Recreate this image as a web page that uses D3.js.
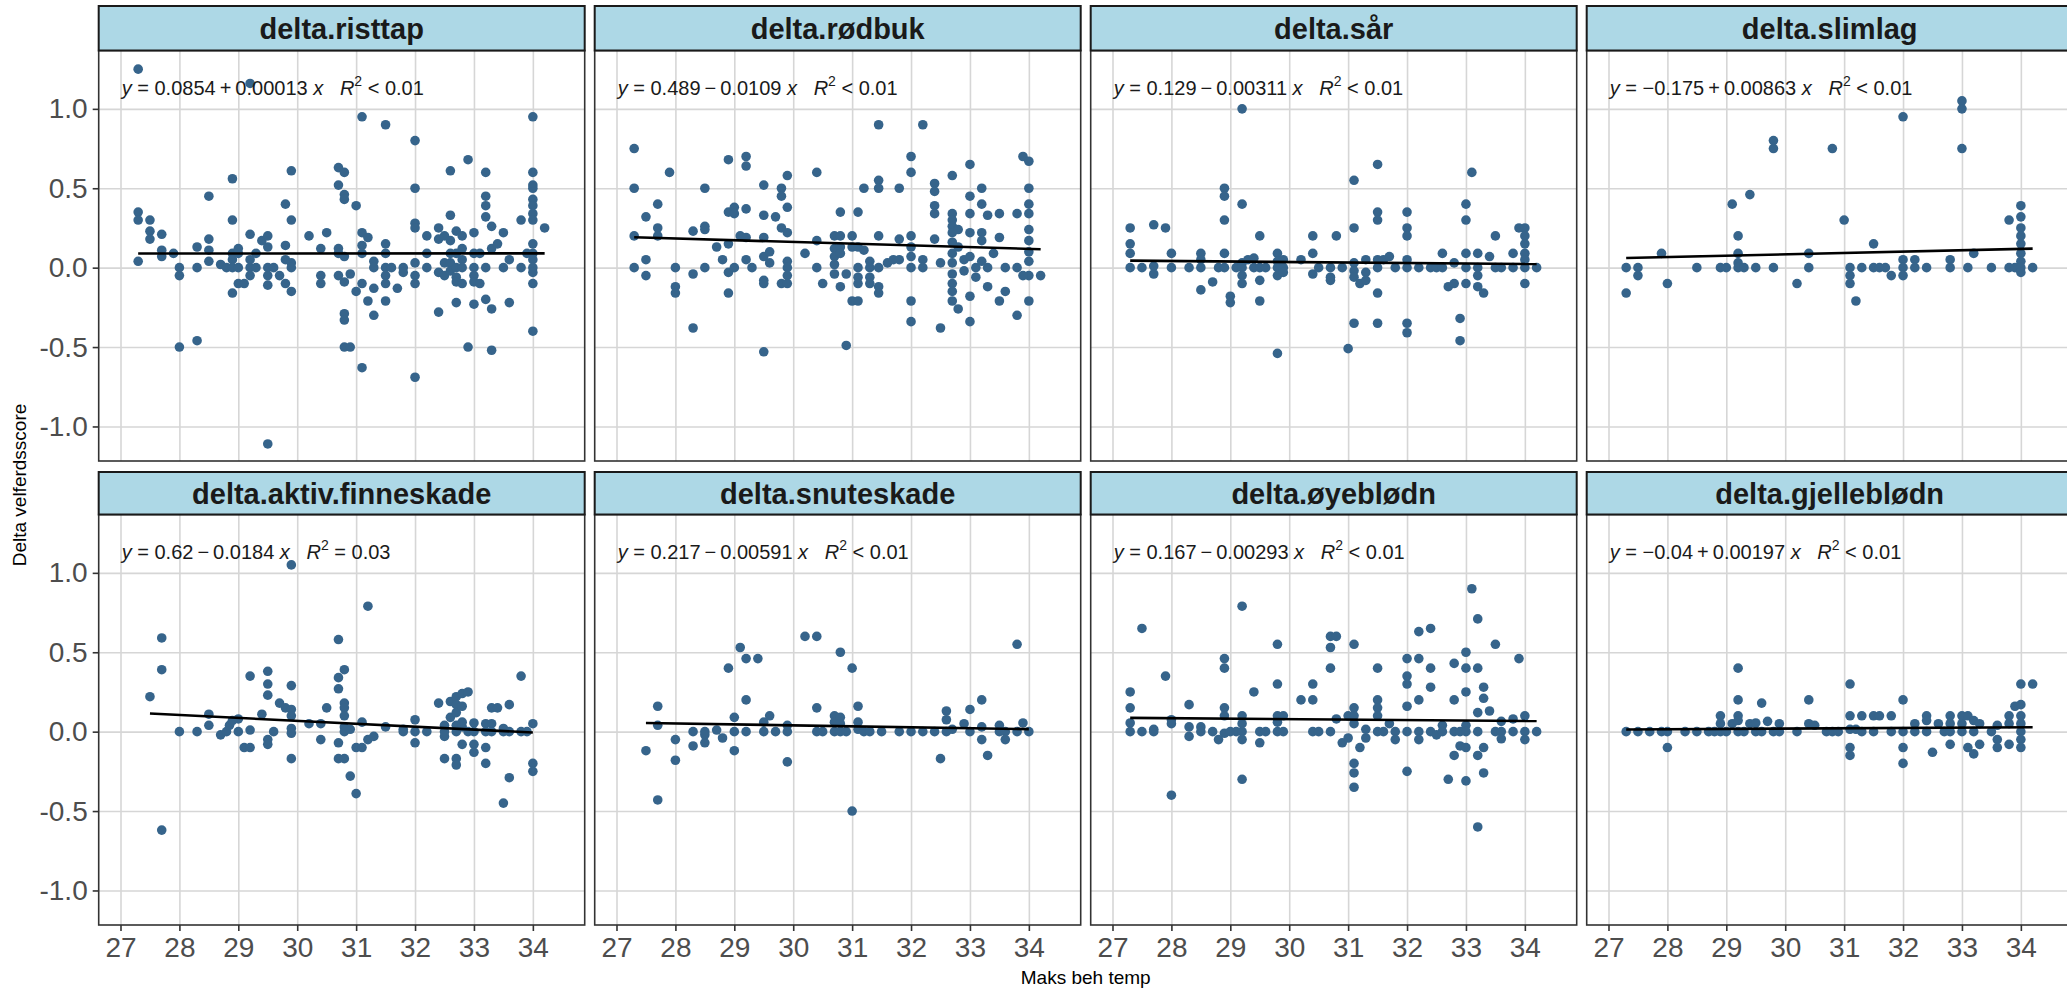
<!DOCTYPE html>
<html>
<head>
<meta charset="utf-8">
<script src="https://cdn.jsdelivr.net/npm/d3@7"></script>
<style>
  body { margin: 0; background: #fff; }
  svg { display: block; font-family: "Liberation Sans", Arial, sans-serif; }
</style>
</head>
<body>
<div id="chart"></div>
<script>
// Facet names and fit results (stat_poly_eq labels)
const facetNames = ["delta.risttap", "delta.rødbuk", "delta.sår", "delta.slimlag",
    "delta.aktiv.finneskade", "delta.snuteskade", "delta.øyeblødn", "delta.gjelleblødn"];
const intercepts = [0.0854, 0.489, 0.129, -0.175, 0.62, 0.217, 0.167, -0.04];
const slopes = [0.00013, -0.0109, -0.00311, 0.00863, -0.0184, -0.00591, -0.00293, 0.00197];
const r2Labels = ["< 0.01", "< 0.01", "< 0.01", "< 0.01", "= 0.03", "< 0.01", "< 0.01", "< 0.01"];

const xTicks = [27, 28, 29, 30, 31, 32, 33, 34];
const yTicks = [-1, -0.5, 0, 0.5, 1];

// [Maks beh temp, delta score] per facet
const risttap = [
  [27.3,1.25],[27.3,0.35],[27.3,0.30],[27.3,0.04],[27.5,0.30],[27.5,0.23],[27.5,0.18],
  [27.7,0.21],[27.7,0.11],[27.7,0.07],[27.9,0.09],[28.0,0],[28.0,-0.05],[28.0,-0.5],
  [28.3,0.13],[28.3,0],[28.3,-0.46],[28.5,0.45],[28.5,0.18],[28.5,0.11],[28.5,0.04],
  [28.7,0.02],[28.8,0],[28.9,0.56],[28.9,0.30],[28.9,0.09],[28.9,0.05],[28.9,0],[28.9,-0.16],
  [29.0,0.12],[29.0,0.09],[29.0,0],[29.0,-0.1],[29.1,-0.1],[29.2,0.21],[29.2,0.05],[29.2,0],
  [29.2,-0.05],[29.2,1.16],[29.3,0.09],[29.3,0],[29.4,0.17],[29.5,0.2],[29.5,0.13],[29.5,0],
  [29.5,-0.05],[29.5,-0.11],[29.5,-1.11],[29.6,0],[29.7,-0.05],[29.8,0.4],[29.8,0.14],
  [29.8,0.05],[29.8,-0.1],[29.9,0.61],[29.9,0.3],[29.9,0.03],[29.9,0],[29.9,-0.15],[30.2,0.2],
  [30.4,0.12],[30.4,-0.05],[30.4,-0.1],[30.5,0.22],[30.7,0.63],[30.7,0.52],[30.7,0.12],
  [30.7,0.09],[30.7,-0.05],[30.8,0.6],[30.8,0.46],[30.8,0.43],[30.8,0.07],[30.8,-0.09],
  [30.8,-0.29],[30.8,-0.33],[30.8,-0.5],[30.9,-0.5],[30.9,-0.04],[31.0,0.39],[31.0,-0.15],
  [31.1,0.95],[31.1,0.22],[31.1,0.14],[31.1,0.09],[31.1,-0.1],[31.1,-0.63],[31.2,0.19],
  [31.2,-0.21],[31.3,0.04],[31.3,0],[31.3,-0.13],[31.3,-0.3],[31.5,0.9],[31.5,0.15],
  [31.5,0.09],[31.5,0],[31.5,-0.05],[31.5,-0.1],[31.5,-0.21],[31.6,0],[31.7,-0.13],[31.8,0],
  [31.8,-0.03],[32.0,0.8],[32.0,0.5],[32.0,0.28],[32.0,0.25],[32.0,0.03],[32.0,-0.05],
  [32.0,-0.1],[32.0,-0.69],[32.2,0.2],[32.2,0.09],[32.2,0],[32.4,0.25],[32.4,0.18],
  [32.4,-0.03],[32.4,-0.28],[32.5,0.2],[32.5,0.03],[32.5,-0.05],[32.6,0.61],[32.6,0.33],
  [32.6,0.17],[32.6,0.09],[32.6,0.03],[32.6,-0.02],[32.7,0.23],[32.7,0.09],[32.7,0],
  [32.7,-0.06],[32.7,-0.09],[32.7,-0.22],[32.8,0.2],[32.8,0.12],[32.8,0.05],[32.8,0],
  [32.8,-0.1],[32.9,0.68],[32.9,-0.5],[33.0,0.22],[33.0,0.09],[33.0,0],[33.0,-0.05],
  [33.0,-0.09],[33.0,-0.23],[33.1,0.09],[33.1,-0.1],[33.2,0.6],[33.2,0.45],[33.2,0.39],
  [33.2,0.32],[33.2,0],[33.2,-0.2],[33.3,0.26],[33.3,0.12],[33.3,-0.26],[33.3,-0.52],
  [33.4,0.15],[33.5,0.22],[33.5,0],[33.6,0.05],[33.6,-0.22],[33.8,0.3],[33.8,0],[33.9,0.09],
  [34.0,0.95],[34.0,0.6],[34.0,0.52],[34.0,0.5],[34.0,0.43],[34.0,0.39],[34.0,0.34],
  [34.0,0.3],[34.0,0.15],[34.0,0.09],[34.0,0.05],[34.0,0],[34.0,-0.03],[34.0,-0.1],
  [34.0,-0.4],[34.2,0.25]
];

const rodbuk = [
  [27.3,0.75],[27.3,0.5],[27.3,0.2],[27.3,0],[27.5,0.32],[27.5,0.05],[27.5,-0.05],
  [27.7,0.4],[27.7,0.25],[27.7,0.2],[27.9,0.6],[28.0,0],[28.0,-0.12],[28.0,-0.16],
  [28.3,0.23],[28.3,-0.04],[28.3,-0.38],[28.5,0.5],[28.5,0.26],[28.5,0.24],[28.5,0],
  [28.7,0.13],[28.8,0.05],[28.9,0.68],[28.9,0.35],[28.9,0.15],[28.9,-0.03],[28.9,-0.16],
  [29.0,0.38],[29.0,0.34],[29.0,0],[29.1,0.2],[29.2,0.7],[29.2,0.64],[29.2,0.37],[29.2,0.19],
  [29.2,0.05],[29.3,0],[29.5,0.52],[29.5,0.33],[29.5,0.19],[29.5,0.07],[29.5,-0.08],
  [29.5,-0.1],[29.5,-0.53],[29.6,0.1],[29.6,0.03],[29.7,0.32],[29.8,0.5],[29.8,0.45],
  [29.8,0.25],[29.8,-0.1],[29.9,0.58],[29.9,0.38],[29.9,0.22],[29.9,0.04],[29.9,0],
  [29.9,-0.05],[29.9,-0.1],[30.2,0.09],[30.4,0.6],[30.4,0.17],[30.4,0],[30.5,-0.1],
  [30.7,0.2],[30.7,0.12],[30.7,0.07],[30.7,0.02],[30.7,-0.04],[30.8,0.35],[30.8,0.2],
  [30.8,0.13],[30.8,0.09],[30.8,-0.12],[30.9,-0.04],[30.9,-0.49],[31.0,0.2],[31.0,0.13],
  [31.0,-0.21],[31.1,0.35],[31.1,0.13],[31.1,0],[31.1,-0.06],[31.1,-0.1],[31.1,-0.21],
  [31.2,0.5],[31.2,0.11],[31.3,0.04],[31.3,0],[31.3,-0.06],[31.3,-0.1],[31.45,0.9],
  [31.45,0.55],[31.45,0.5],[31.45,0.2],[31.45,0],[31.45,-0.12],[31.45,-0.16],[31.6,0.03],
  [31.7,0.05],[31.8,0.5],[31.8,0.18],[31.8,0.05],[32.0,0.7],[32.0,0.6],[32.0,0.2],
  [32.0,0.13],[32.0,0.07],[32.0,0],[32.0,-0.21],[32.0,-0.34],[32.2,0.9],[32.2,0.05],
  [32.2,0],[32.4,0.53],[32.4,0.48],[32.4,0.39],[32.4,0.34],[32.4,0.18],[32.5,0.03],
  [32.5,-0.38],[32.7,0.58],[32.7,0.34],[32.7,0.3],[32.7,0.26],[32.7,0.22],[32.7,0.16],
  [32.7,0.09],[32.7,0.03],[32.7,-0.04],[32.7,-0.1],[32.7,-0.15],[32.7,-0.21],[32.8,-0.26],
  [32.8,0.24],[32.8,0.13],[32.9,0.05],[32.9,-0.02],[33.0,0.65],[33.0,0.45],[33.0,0.34],
  [33.0,0.22],[33.0,0.07],[33.0,-0.18],[33.0,-0.34],[33.1,0],[33.1,-0.06],[33.2,0.5],
  [33.2,0.4],[33.2,0.22],[33.2,0.17],[33.2,0.04],[33.3,0.33],[33.3,0],[33.3,-0.12],
  [33.4,0.09],[33.5,0.34],[33.5,0.19],[33.5,-0.21],[33.6,0],[33.6,-0.15],[33.8,0.34],
  [33.8,0],[33.8,-0.3],[33.9,0.7],[34.0,0.67],[34.0,0.5],[34.0,0.4],[34.0,0.34],[34.0,0.24],
  [34.0,0.17],[34.0,0.1],[34.0,0.04],[34.0,-0.05],[34.0,-0.21],[33.9,-0.05],[34.2,-0.05]
];

const sar = [
  [27.3,0.25],[27.3,0.15],[27.3,0.09],[27.3,0],[27.5,0],[27.7,0.27],[27.7,0.01],[27.7,-0.04],
  [27.9,0.25],[28.0,0.09],[28.0,0],[28.3,0],[28.5,0.09],[28.5,0.05],[28.5,0],[28.5,-0.14],
  [28.7,-0.09],[28.8,0],[28.9,0.5],[28.9,0.45],[28.9,0.3],[28.9,0.09],[28.9,0],[29.0,-0.18],
  [29.0,-0.22],[29.1,0],[29.2,1.0],[29.2,0.4],[29.2,0.03],[29.2,0],[29.2,-0.05],[29.2,-0.1],
  [29.3,0.05],[29.4,0.06],[29.4,0],[29.5,0.2],[29.5,0],[29.5,-0.08],[29.5,-0.21],[29.6,0],
  [29.8,0.09],[29.8,0.04],[29.8,0],[29.8,-0.05],[29.8,-0.54],[29.9,0.05],[29.9,0],
  [29.9,-0.03],[30.2,0.05],[30.4,0.2],[30.4,0.09],[30.4,-0.04],[30.5,0],[30.7,0],
  [30.7,-0.06],[30.7,-0.08],[30.8,0.2],[30.9,0],[31.0,-0.51],[31.1,0.55],[31.1,0.25],
  [31.1,0.03],[31.1,-0.02],[31.1,-0.06],[31.1,-0.35],[31.2,-0.1],[31.3,0.05],[31.3,-0.03],
  [31.3,-0.08],[31.5,0.65],[31.5,0.35],[31.5,0.3],[31.5,0.05],[31.5,0],[31.5,-0.16],
  [31.5,-0.35],[31.6,0.05],[31.7,0.07],[31.8,0],[32.0,0.35],[32.0,0.25],[32.0,0.2],
  [32.0,0.05],[32.0,0],[32.0,-0.35],[32.0,-0.41],[32.2,0],[32.4,0],[32.5,0],[32.6,0.09],
  [32.6,0],[32.7,-0.12],[32.8,-0.1],[32.8,0.03],[32.9,-0.32],[32.9,-0.46],[33.0,0.4],
  [33.0,0.3],[33.0,0.09],[33.0,0],[33.0,-0.1],[33.1,0.6],[33.2,0.09],[33.2,0],[33.2,-0.05],
  [33.2,-0.12],[33.3,-0.16],[33.4,0.07],[33.5,0.2],[33.5,0],[33.6,0],[33.8,0.09],[33.8,0],
  [33.9,0.25],[34.0,0.25],[34.0,0.2],[34.0,0.15],[34.0,0.09],[34.0,0.05],[34.0,0],
  [34.0,-0.1],[34.2,0]
];

const slimlag = [
  [27.3,0],[27.3,-0.16],[27.5,0],[27.5,-0.05],[27.9,0.09],[28.0,-0.1],[28.5,0],[28.9,0],
  [29.0,0],[29.1,0.4],[29.2,0.2],[29.2,0.09],[29.2,0.03],[29.2,0],[29.3,0],[29.4,0.46],
  [29.5,0],[29.8,0.8],[29.8,0.75],[29.8,0],[30.2,-0.1],[30.4,0.09],[30.4,0],[30.8,0.75],
  [31.0,0.3],[31.1,0],[31.1,-0.05],[31.1,-0.1],[31.2,-0.21],[31.3,0],[31.5,0.15],[31.5,0],
  [31.6,0],[31.7,0],[31.8,-0.05],[32.0,0.95],[32.0,0.05],[32.0,0],[32.0,-0.05],[32.2,0.05],
  [32.2,0],[32.4,0],[32.8,0.05],[32.8,0],[33.0,1.05],[33.0,1.0],[33.0,0.75],[33.1,0],
  [33.2,0.09],[33.5,0],[33.8,0.3],[33.8,0],[33.9,0],[34.0,0.39],[34.0,0.32],[34.0,0.25],
  [34.0,0.2],[34.0,0.15],[34.0,0.09],[34.0,0.04],[34.0,0],[34.0,-0.03],[34.2,0]
];

const finneskade = [
  [27.5,0.22],[27.7,0.59],[27.7,0.39],[27.7,-0.62],[28.0,0],[28.3,0],[28.5,0.11],[28.5,0.04],
  [28.7,-0.02],[28.8,0],[28.85,0.04],[28.9,0.07],[29.0,0.08],[29.0,0],[29.1,-0.1],[29.2,0.35],
  [29.2,0.01],[29.2,-0.1],[29.4,0.11],[29.5,0.38],[29.5,0.3],[29.5,0.23],[29.5,-0.05],
  [29.5,-0.08],[29.6,0],[29.7,0.18],[29.8,0.15],[29.9,0.29],[29.9,0.14],[29.9,0.1],
  [29.9,0.02],[29.9,-0.01],[29.9,-0.17],[29.9,1.05],[30.2,0.05],[30.4,0.05],[30.4,-0.05],
  [30.5,0.15],[30.7,0.58],[30.7,0.34],[30.7,0.27],[30.7,-0.07],[30.7,-0.17],[30.8,0.39],
  [30.8,0.18],[30.8,0.15],[30.8,0.1],[30.8,0.03],[30.8,0],[30.8,-0.17],[30.9,0.015],
  [30.9,-0.28],[31.0,-0.1],[31.0,-0.39],[31.1,0.06],[31.1,-0.1],[31.2,0.79],[31.2,-0.05],
  [31.3,-0.03],[31.5,0.03],[31.8,0.015],[31.8,0],[32.0,0.075],[32.0,0],[32.0,-0.07],
  [32.2,0],[32.4,0.18],[32.5,0.04],[32.5,0],[32.5,-0.03],[32.5,-0.17],[32.6,0.19],
  [32.6,0.09],[32.7,0.22],[32.7,0.17],[32.7,0.12],[32.7,0.04],[32.7,0],[32.7,-0.17],
  [32.7,-0.21],[32.8,0.24],[32.8,0.16],[32.8,0.06],[32.8,0.03],[32.8,-0.08],[32.9,0.25],
  [32.9,0],[33.0,0.055],[33.0,0],[33.0,-0.08],[33.0,-0.13],[33.2,0.05],[33.2,0],[33.2,-0.1],
  [33.2,-0.2],[33.3,0.15],[33.3,0.05],[33.3,0],[33.4,0.15],[33.5,0.02],[33.5,0],[33.5,-0.45],
  [33.6,0.17],[33.6,0],[33.6,-0.29],[33.8,0.35],[33.8,0],[33.9,0],[34.0,0.05],[34.0,-0.2],
  [34.0,-0.25]
];

const snuteskade = [
  [27.5,-0.12],[27.7,0.16],[27.7,0.04],[27.7,-0.43],[28.0,-0.05],[28.0,-0.18],[28.3,0],
  [28.3,-0.09],[28.5,0],[28.5,-0.02],[28.5,-0.07],[28.7,0.01],[28.8,-0.04],[28.9,0.4],
  [29.0,0.09],[29.0,0],[29.0,-0.12],[29.1,0.53],[29.2,0.46],[29.2,0.2],[29.2,0],[29.4,0.46],
  [29.5,0.06],[29.5,0],[29.6,0.1],[29.7,0],[29.9,0.04],[29.9,0],[29.9,-0.19],[30.2,0.6],
  [30.4,0.6],[30.4,0.15],[30.4,0],[30.5,0],[30.7,0.1],[30.7,0.06],[30.7,0],[30.8,0.5],
  [30.8,0.09],[30.8,0.05],[30.8,0],[30.9,0],[31.0,0.4],[31.0,-0.5],[31.1,0.16],[31.1,0.06],
  [31.1,0.015],[31.2,0],[31.3,0],[31.5,0],[31.8,0],[32.0,0],[32.2,0],[32.4,0],[32.5,-0.17],
  [32.6,0.13],[32.6,0.075],[32.6,0],[32.7,0.015],[32.9,0.05],[33.0,0.14],[33.0,0],
  [33.2,0.2],[33.2,0.03],[33.2,-0.05],[33.3,-0.15],[33.5,0.04],[33.5,0],[33.6,0],
  [33.6,-0.05],[33.8,0.55],[33.8,0],[33.9,0.055],[34.0,0]
];

const oyeblodn = [
  [27.3,0.25],[27.3,0.15],[27.3,0.055],[27.3,0],[27.5,0.65],[27.5,0],[27.7,0.015],[27.7,0],
  [27.9,0.35],[28.0,0.075],[28.0,0.05],[28.0,-0.4],[28.3,0.17],[28.3,0.03],[28.3,-0.03],
  [28.5,0.03],[28.5,0],[28.7,0],[28.8,-0.05],[28.9,0.46],[28.9,0.4],[28.9,0.15],[28.9,0.1],
  [28.9,-0.01],[29.0,0],[29.1,0],[29.2,0.79],[29.2,0.1],[29.2,0.05],[29.2,0],[29.2,-0.05],
  [29.2,-0.3],[29.4,0.25],[29.5,0],[29.5,-0.07],[29.6,0],[29.8,0.55],[29.8,0.3],[29.8,0.1],
  [29.8,0.06],[29.8,0],[29.9,0.1],[29.9,0],[30.2,0.2],[30.4,0.3],[30.4,0.2],[30.4,0],
  [30.5,0],[30.7,0.6],[30.7,0.53],[30.7,0.4],[30.7,0],[30.8,0.6],[30.8,0.08],[30.9,-0.07],
  [31.0,0.1],[31.0,-0.04],[31.1,0.55],[31.1,0.15],[31.1,0.1],[31.1,0.05],[31.1,-0.2],
  [31.1,-0.26],[31.1,-0.35],[31.2,-0.1],[31.3,0.015],[31.3,-0.04],[31.5,0.4],[31.5,0.2],
  [31.5,0.15],[31.5,0.1],[31.5,0],[31.6,0],[31.7,0.05],[31.8,0],[31.8,-0.05],[32.0,0.46],
  [32.0,0.35],[32.0,0.3],[32.0,0.16],[32.0,0],[32.0,-0.25],[32.2,0.63],[32.2,0.46],
  [32.2,0.2],[32.2,0],[32.2,-0.05],[32.4,0.65],[32.4,0.4],[32.4,0.28],[32.4,0],[32.5,-0.02],
  [32.6,0.04],[32.6,0],[32.7,-0.3],[32.8,0.43],[32.8,0.2],[32.8,0],[32.8,-0.15],[32.9,0],
  [32.9,-0.09],[33.0,0.5],[33.0,0.4],[33.0,0.25],[33.0,0.04],[33.0,0],[33.0,-0.1],
  [33.0,-0.31],[33.1,0.9],[33.2,0.71],[33.2,0.4],[33.2,0.12],[33.2,0],[33.2,-0.15],
  [33.2,-0.6],[33.3,0.28],[33.3,0.21],[33.3,-0.1],[33.3,-0.26],[33.4,0.13],[33.5,0.55],
  [33.5,0],[33.6,0.065],[33.6,0],[33.6,-0.045],[33.8,0.08],[33.8,0],[33.9,0.46],[34.0,0.1],
  [34.0,0],[34.0,-0.05],[34.2,0]
];

const gjelleblodn = [
  [27.3,0],[27.5,0],[27.7,0],[27.9,0],[28.0,0],[28.0,-0.1],[28.3,0],[28.5,0],[28.7,0],
  [28.8,0],[28.9,0.1],[28.9,0.05],[28.9,0],[29.0,0],[29.1,0.05],[29.2,0.4],[29.2,0.2],
  [29.2,0.1],[29.2,0.07],[29.2,0],[29.3,0],[29.4,0.05],[29.5,0.055],[29.5,0],[29.6,0.18],
  [29.6,0],[29.7,0.065],[29.8,0],[29.9,0.05],[29.9,0],[30.2,0],[30.4,0.2],[30.4,0.05],
  [30.5,0.04],[30.7,0],[30.8,0],[30.9,0],[31.1,0.3],[31.1,0.1],[31.1,0.015],[31.1,-0.1],
  [31.1,-0.15],[31.2,0.015],[31.3,0.1],[31.3,0],[31.5,0.1],[31.5,0],[31.6,0.1],[31.8,0.1],
  [31.8,0],[32.0,0.2],[32.0,0],[32.0,-0.1],[32.0,-0.2],[32.2,0.05],[32.2,0],[32.4,0.1],
  [32.4,0.07],[32.4,0],[32.5,-0.13],[32.6,0.05],[32.7,0],[32.8,0.1],[32.8,0.05],[32.8,0],
  [32.8,-0.08],[33.0,0.1],[33.0,0.05],[33.0,0],[33.1,0.1],[33.1,-0.1],[33.2,0.07],[33.2,0],
  [33.2,-0.14],[33.3,0.05],[33.3,-0.08],[33.5,0],[33.6,0.04],[33.6,-0.05],[33.6,-0.1],
  [33.8,0.1],[33.8,0.05],[33.8,-0.08],[33.9,0.16],[34.0,0.3],[34.0,0.17],[34.0,0.1],
  [34.0,0.05],[34.0,0],[34.0,-0.05],[34.0,-0.1],[34.2,0.3]
];

const panelData = [risttap, rodbuk, sar, slimlag, finneskade, snuteskade, oyeblodn, gjelleblodn];

// Layout
const width = 2067, height = 990;
const colLeft = [98.7, 594.7, 1090.7, 1586.7];
const panelW = 486;
const rowBox = [
  { stripTop: 6, panelTop: 50.5, bottom: 461 },
  { stripTop: 472, panelTop: 514.5, bottom: 925 }
];
const xDomain = [26.63, 34.88];
const yDomain = [-1.2175, 1.3675];
const pointColor = "#36648B";

const fmtCoef = d3.format(".3~g");
const fmtTick = d3.formatLocale({ decimal: ".", thousands: ",", grouping: [3], currency: ["", ""], minus: "-" }).format(".1f");

const svg = d3.select("#chart").append("svg")
  .attr("width", width)
  .attr("height", height);

const defs = svg.append("defs");

panelData.forEach((data, i) => {
  const col = i % 4, row = Math.floor(i / 4);
  const box = rowBox[row];
  const left = colLeft[col];
  const x = d3.scaleLinear().domain(xDomain).range([left, left + panelW]);
  const y = d3.scaleLinear().domain(yDomain).range([box.bottom, box.panelTop]);
  const panelH = box.bottom - box.panelTop;

  defs.append("clipPath").attr("id", "clip" + i)
    .append("rect")
    .attr("x", left).attr("y", box.panelTop)
    .attr("width", panelW).attr("height", panelH);

  const g = svg.append("g");

  g.append("rect")
    .attr("x", left).attr("y", box.panelTop)
    .attr("width", panelW).attr("height", panelH)
    .attr("fill", "#fff");

  // grid lines through the axes
  const gridX = g.append("g")
    .attr("transform", `translate(0,${box.bottom})`)
    .call(d3.axisBottom(x).tickValues(xTicks).tickSize(-panelH).tickFormat(""));
  const gridY = g.append("g")
    .attr("transform", `translate(${left},0)`)
    .call(d3.axisLeft(y).tickValues(yTicks).tickSize(-panelW).tickFormat(""));
  [gridX, gridY].forEach(gr => {
    gr.select(".domain").remove();
    gr.selectAll("line").attr("stroke", "#d6d6d6").attr("stroke-width", 1.6);
  });

  const inner = g.append("g").attr("clip-path", `url(#clip${i})`);

  inner.selectAll("circle")
    .data(data)
    .join("circle")
    .attr("cx", d => x(d[0]))
    .attr("cy", d => y(d[1]))
    .attr("r", 4.8)
    .attr("fill", pointColor);

  // fitted line
  const ext = d3.extent(data, d => d[0]);
  const a = intercepts[i], b = slopes[i];
  const line = d3.line().x(d => x(d)).y(d => y(a + b * d));
  inner.append("path")
    .datum(ext)
    .attr("d", line)
    .attr("fill", "none")
    .attr("stroke", "#000")
    .attr("stroke-width", 2.6);

  // equation label
  const eq = g.append("text")
    .attr("x", left + 23)
    .attr("y", box.panelTop + 44)
    .attr("font-size", 20)
    .attr("fill", "#1a1a1a")
    .style("white-space", "pre");
  eq.append("tspan").attr("font-style", "italic").text("y");
  eq.append("tspan").text(" = " + (a < 0 ? "\u2212" : "") + fmtCoef(Math.abs(a)) +
    (b < 0 ? "\u2009\u2212\u2009" : "\u2009+\u2009") + fmtCoef(Math.abs(b)) + " ");
  eq.append("tspan").attr("font-style", "italic").text("x");
  eq.append("tspan").text("   ");
  eq.append("tspan").attr("font-style", "italic").text("R");
  eq.append("tspan").attr("font-size", 14).attr("dy", -9).text("2");
  eq.append("tspan").attr("dy", 9).text(" " + r2Labels[i]);

  // panel border
  g.append("rect")
    .attr("x", left).attr("y", box.panelTop)
    .attr("width", panelW).attr("height", panelH)
    .attr("fill", "none")
    .attr("stroke", "#333")
    .attr("stroke-width", 1.6);

  // strip
  g.append("rect")
    .attr("x", left).attr("y", box.stripTop)
    .attr("width", panelW).attr("height", box.panelTop - box.stripTop)
    .attr("fill", "#ADD8E6")
    .attr("stroke", "#1a1a1a")
    .attr("stroke-width", 2);
  g.append("text")
    .attr("x", left + panelW / 2)
    .attr("y", (box.stripTop + box.panelTop) / 2)
    .attr("dy", "0.36em")
    .attr("text-anchor", "middle")
    .attr("font-size", 29)
    .attr("font-weight", "bold")
    .attr("fill", "#1a1a1a")
    .text(facetNames[i]);

  // axes on the outer panels
  if (col === 0) {
    const ax = g.append("g")
      .attr("transform", `translate(${left},0)`)
      .call(d3.axisLeft(y).tickValues(yTicks).tickSize(6).tickPadding(5).tickFormat(fmtTick));
    ax.select(".domain").remove();
    ax.selectAll("line").attr("stroke", "#333").attr("stroke-width", 1.6);
    ax.selectAll("text").attr("font-size", 28).attr("fill", "#4d4d4d")
      .attr("font-family", "Liberation Sans, Arial, sans-serif");
  }
  if (row === 1) {
    const ax = g.append("g")
      .attr("transform", `translate(0,${box.bottom})`)
      .call(d3.axisBottom(x).tickValues(xTicks).tickSize(6).tickPadding(6).tickFormat(d3.format("d")));
    ax.select(".domain").remove();
    ax.selectAll("line").attr("stroke", "#333").attr("stroke-width", 1.6);
    ax.selectAll("text").attr("font-size", 28).attr("fill", "#4d4d4d")
      .attr("font-family", "Liberation Sans, Arial, sans-serif");
  }
});

// axis titles
svg.append("text")
  .attr("x", (colLeft[0] + colLeft[3] + panelW) / 2)
  .attr("y", 984)
  .attr("text-anchor", "middle")
  .attr("font-size", 19)
  .attr("fill", "#000")
  .text("Maks beh temp");

svg.append("text")
  .attr("transform", "translate(26,485) rotate(-90)")
  .attr("text-anchor", "middle")
  .attr("font-size", 19)
  .attr("fill", "#000")
  .text("Delta velferdsscore");
</script>
</body>
</html>
